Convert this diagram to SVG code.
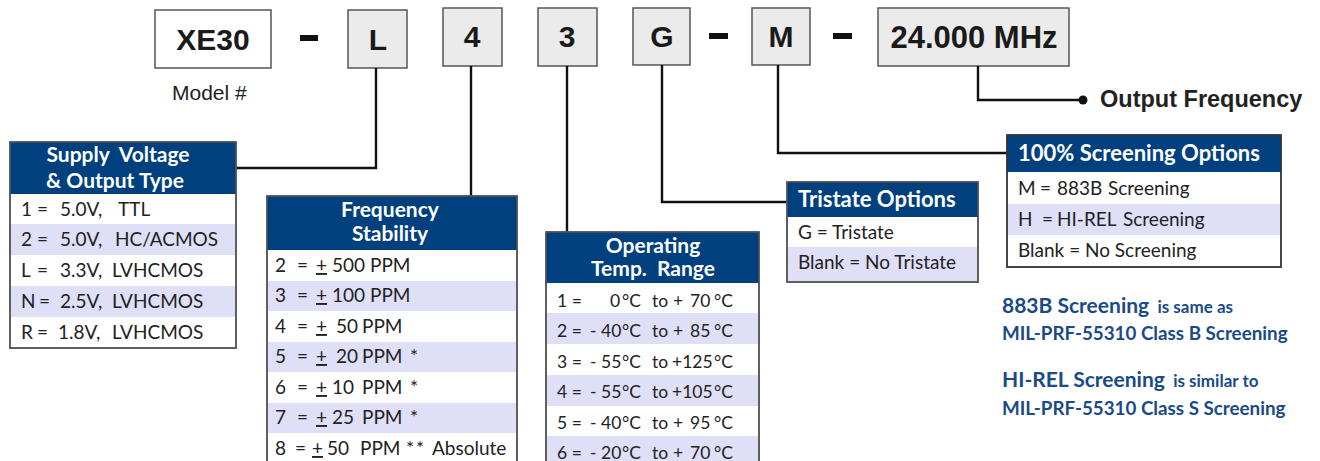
<svg xmlns="http://www.w3.org/2000/svg" width="1320" height="461" viewBox="0 0 1320 461">
<defs>
<style>
.code{fill:#ebebeb;stroke:#555;stroke-width:1.5}
.codew{fill:#fff;stroke:#555;stroke-width:1.5}
.ct{font-family:"Liberation Sans",Arial,sans-serif;font-weight:bold;font-size:30px;fill:#1a1a1a;text-anchor:middle}
.frame{fill:#fff;stroke:#555;stroke-width:1.5}
.hdr{fill:#00407f}
.alt{fill:#dfdff7}
.ht{font-family:Lato,"Open Sans",sans-serif;font-weight:bold;font-size:22px;fill:#fff}
.ht2{font-family:Lato,"Open Sans",sans-serif;font-weight:bold;font-size:21px;fill:#fff;text-anchor:middle}
.rt{font-family:Lato,"Open Sans",sans-serif;font-size:19px;fill:#222}
.tt{font-family:Lato,"Open Sans",sans-serif;font-size:17.5px;fill:#222}
.note{font-family:Lato,"Open Sans",sans-serif;font-weight:bold;fill:#1a4a87}
.conn{fill:none;stroke:#111;stroke-width:2.4}
.u{text-decoration:underline}
</style>
<marker id="dot" viewBox="0 0 10 10" refX="5" refY="5" markerWidth="10" markerHeight="10" markerUnits="userSpaceOnUse">
<circle cx="5" cy="5" r="4.5" fill="#111"/>
</marker>
</defs>
<rect width="1320" height="461" fill="#fff"/>

<g id="code-xe30">
<rect class="codew" x="155" y="10" width="116" height="58"/>
<text class="ct" x="213" y="50">XE30</text>
<text x="172" y="100" style="font-family:'Liberation Sans',Arial,sans-serif;font-size:21px;fill:#222">Model #</text>
</g>
<g id="separators" fill="#111">
<rect x="300" y="35" width="18" height="6"/>
<rect x="709" y="33" width="19" height="6"/>
<rect x="833" y="33" width="19" height="6"/>
</g>
<g id="code-L"><rect class="code" x="348" y="10" width="59" height="58"/><text class="ct" x="378" y="50">L</text></g>
<g id="code-4"><rect class="code" x="443" y="8" width="59" height="58"/><text class="ct" x="472" y="47">4</text></g>
<g id="code-3"><rect class="code" x="538" y="8" width="59" height="58"/><text class="ct" x="567" y="47">3</text></g>
<g id="code-G"><rect class="code" x="633" y="8" width="57" height="57"/><text class="ct" x="662" y="47">G</text></g>
<g id="code-M"><rect class="code" x="752" y="8" width="58" height="57"/><text class="ct" x="781" y="47">M</text></g>
<g id="code-freq"><rect class="code" x="878" y="8" width="191" height="58"/><text class="ct" x="974" y="48" style="font-size:31px">24.000 MHz</text></g>

<g id="connectors">
<path class="conn" d="M376,68 V168 H236"/>
<path class="conn" d="M471,66 V196"/>
<path class="conn" d="M567,66 V232"/>
<path class="conn" d="M662,65 V202 H787"/>
<path class="conn" d="M778,65 V153 H1007"/>
<path class="conn" d="M978,66 V100 H1083" marker-end="url(#dot)"/>
</g>

<g id="output-frequency">
<text x="1100" y="107" style="font-family:'Liberation Sans',Arial,sans-serif;font-weight:bold;font-size:23.5px;fill:#222">Output Frequency</text>
</g>

<g id="supply-voltage">
<rect class="frame" x="10" y="142" width="226" height="206"/>
<rect class="hdr" x="10" y="142" width="226" height="52"/>
<rect class="alt" x="11" y="224" width="224" height="31"/>
<rect class="alt" x="11" y="286" width="224" height="31"/>
<rect fill="none" stroke="#555" stroke-width="1.5" x="10" y="142" width="226" height="206"/>
<text class="ht2" x="118" y="162" xml:space="preserve">Supply  Voltage</text>
<text class="ht2" x="115" y="188">&amp; Output Type</text>
<text class="rt" y="216"><tspan x="21">1</tspan><tspan x="37">=</tspan><tspan x="60">5.0V,</tspan><tspan x="118">TTL</tspan></text>
<text class="rt" y="246"><tspan x="21">2</tspan><tspan x="37">=</tspan><tspan x="60">5.0V,</tspan><tspan x="115">HC/ACMOS</tspan></text>
<text class="rt" y="277"><tspan x="21">L</tspan><tspan x="37">=</tspan><tspan x="60">3.3V,</tspan><tspan x="112">LVHCMOS</tspan></text>
<text class="rt" y="308"><tspan x="21">N</tspan><tspan x="39">=</tspan><tspan x="60">2.5V,</tspan><tspan x="112">LVHCMOS</tspan></text>
<text class="rt" y="339"><tspan x="21">R</tspan><tspan x="37">=</tspan><tspan x="58">1.8V,</tspan><tspan x="112">LVHCMOS</tspan></text>
</g>

<g id="frequency-stability">
<rect class="frame" x="267" y="196" width="250" height="280"/>
<rect class="hdr" x="267" y="196" width="250" height="54"/>
<rect class="alt" x="268" y="281" width="248" height="30"/>
<rect class="alt" x="268" y="342" width="248" height="30"/>
<rect class="alt" x="268" y="403" width="248" height="30"/>
<rect fill="none" stroke="#555" stroke-width="1.5" x="267" y="196" width="250" height="280"/>
<text class="ht2" x="390" y="217">Frequency</text>
<text class="ht2" x="390" y="241">Stability</text>
<text class="rt" y="272"><tspan x="275">2</tspan><tspan x="297">=</tspan><tspan x="316" class="u">+</tspan><tspan x="332">500</tspan><tspan x="370">PPM</tspan></text>
<text class="rt" y="302"><tspan x="275">3</tspan><tspan x="297">=</tspan><tspan x="316" class="u">+</tspan><tspan x="332">100</tspan><tspan x="370">PPM</tspan></text>
<text class="rt" y="333"><tspan x="275">4</tspan><tspan x="297">=</tspan><tspan x="316" class="u">+</tspan><tspan x="336">50</tspan><tspan x="362">PPM</tspan></text>
<text class="rt" y="363"><tspan x="275">5</tspan><tspan x="297">=</tspan><tspan x="316" class="u">+</tspan><tspan x="336">20</tspan><tspan x="362">PPM</tspan><tspan x="410">*</tspan></text>
<text class="rt" y="394"><tspan x="275">6</tspan><tspan x="297">=</tspan><tspan x="316" class="u">+</tspan><tspan x="332">10</tspan><tspan x="362">PPM</tspan><tspan x="410">*</tspan></text>
<text class="rt" y="424"><tspan x="275">7</tspan><tspan x="297">=</tspan><tspan x="316" class="u">+</tspan><tspan x="332">25</tspan><tspan x="362">PPM</tspan><tspan x="410">*</tspan></text>
<text class="rt" y="455"><tspan x="275">8</tspan><tspan x="295">=</tspan><tspan x="312" class="u">+</tspan><tspan x="327">50</tspan><tspan x="360">PPM</tspan><tspan x="406" letter-spacing="2">**</tspan><tspan x="432">Absolute</tspan></text>
</g>

<g id="operating-temp">
<rect class="frame" x="546" y="232" width="213" height="244"/>
<rect class="hdr" x="546" y="232" width="213" height="51"/>
<rect class="alt" x="547" y="313" width="211" height="31"/>
<rect class="alt" x="547" y="375" width="211" height="31"/>
<rect class="alt" x="547" y="436" width="211" height="31"/>
<rect fill="none" stroke="#555" stroke-width="1.5" x="546" y="232" width="213" height="244"/>
<text class="ht2" x="653" y="253">Operating</text>
<text class="ht2" x="653" y="276" xml:space="preserve">Temp.  Range</text>
<text class="tt" y="307"><tspan x="557">1 =</tspan><tspan x="610">0</tspan><tspan x="622">°C</tspan><tspan x="652">to</tspan><tspan x="673">+</tspan><tspan x="690">70</tspan><tspan x="714">°C</tspan></text>
<text class="tt" y="337"><tspan x="557">2 =</tspan><tspan x="590">- 40</tspan><tspan x="622">°C</tspan><tspan x="652">to</tspan><tspan x="673">+</tspan><tspan x="690">85</tspan><tspan x="714">°C</tspan></text>
<text class="tt" y="368"><tspan x="557">3 =</tspan><tspan x="590">- 55</tspan><tspan x="622">°C</tspan><tspan x="652">to</tspan><tspan x="672">+125</tspan><tspan x="714">°C</tspan></text>
<text class="tt" y="398"><tspan x="557">4 =</tspan><tspan x="590">- 55</tspan><tspan x="622">°C</tspan><tspan x="652">to</tspan><tspan x="672">+105</tspan><tspan x="714">°C</tspan></text>
<text class="tt" y="429"><tspan x="557">5 =</tspan><tspan x="590">- 40</tspan><tspan x="622">°C</tspan><tspan x="652">to</tspan><tspan x="673">+</tspan><tspan x="690">95</tspan><tspan x="714">°C</tspan></text>
<text class="tt" y="459"><tspan x="557">6 =</tspan><tspan x="590">- 20</tspan><tspan x="622">°C</tspan><tspan x="652">to</tspan><tspan x="673">+</tspan><tspan x="690">70</tspan><tspan x="714">°C</tspan></text>
</g>

<g id="tristate">
<rect class="frame" x="787" y="182" width="191" height="100"/>
<rect class="hdr" x="787" y="182" width="191" height="35"/>
<rect class="alt" x="788" y="247" width="189" height="34"/>
<rect fill="none" stroke="#555" stroke-width="1.5" x="787" y="182" width="191" height="100"/>
<text class="ht" x="798" y="207">Tristate Options</text>
<text class="rt" x="798" y="239">G = Tristate</text>
<text class="rt" x="798" y="269">Blank = No Tristate</text>
</g>

<g id="screening">
<rect class="frame" x="1007" y="135" width="274" height="132"/>
<rect class="hdr" x="1007" y="135" width="274" height="37"/>
<rect class="alt" x="1008" y="204" width="272" height="31"/>
<rect fill="none" stroke="#333" stroke-width="1.5" x="1007" y="135" width="274" height="132"/>
<text class="ht" x="1018" y="161">100% Screening Options</text>
<text class="rt" y="195"><tspan x="1018">M</tspan><tspan x="1040">=</tspan><tspan x="1057">883B</tspan><tspan x="1108">Screening</tspan></text>
<text class="rt" y="226"><tspan x="1018">H</tspan><tspan x="1042">=</tspan><tspan x="1057">HI-REL</tspan><tspan x="1123">Screening</tspan></text>
<text class="rt" x="1018" y="257">Blank = No Screening</text>
</g>

<g id="notes">
<text class="note" y="313"><tspan x="1002" font-size="21">883B Screening</tspan><tspan font-size="17" xml:space="preserve">  is same as</tspan></text>
<text class="note" x="1002" y="340" font-size="18.8">MIL-PRF-55310 Class B Screening</text>
<text class="note" y="387"><tspan x="1002" font-size="21">HI-REL Screening</tspan><tspan font-size="17" xml:space="preserve">  is similar to</tspan></text>
<text class="note" x="1002" y="415" font-size="18.8">MIL-PRF-55310 Class S Screening</text>
</g>
</svg>
